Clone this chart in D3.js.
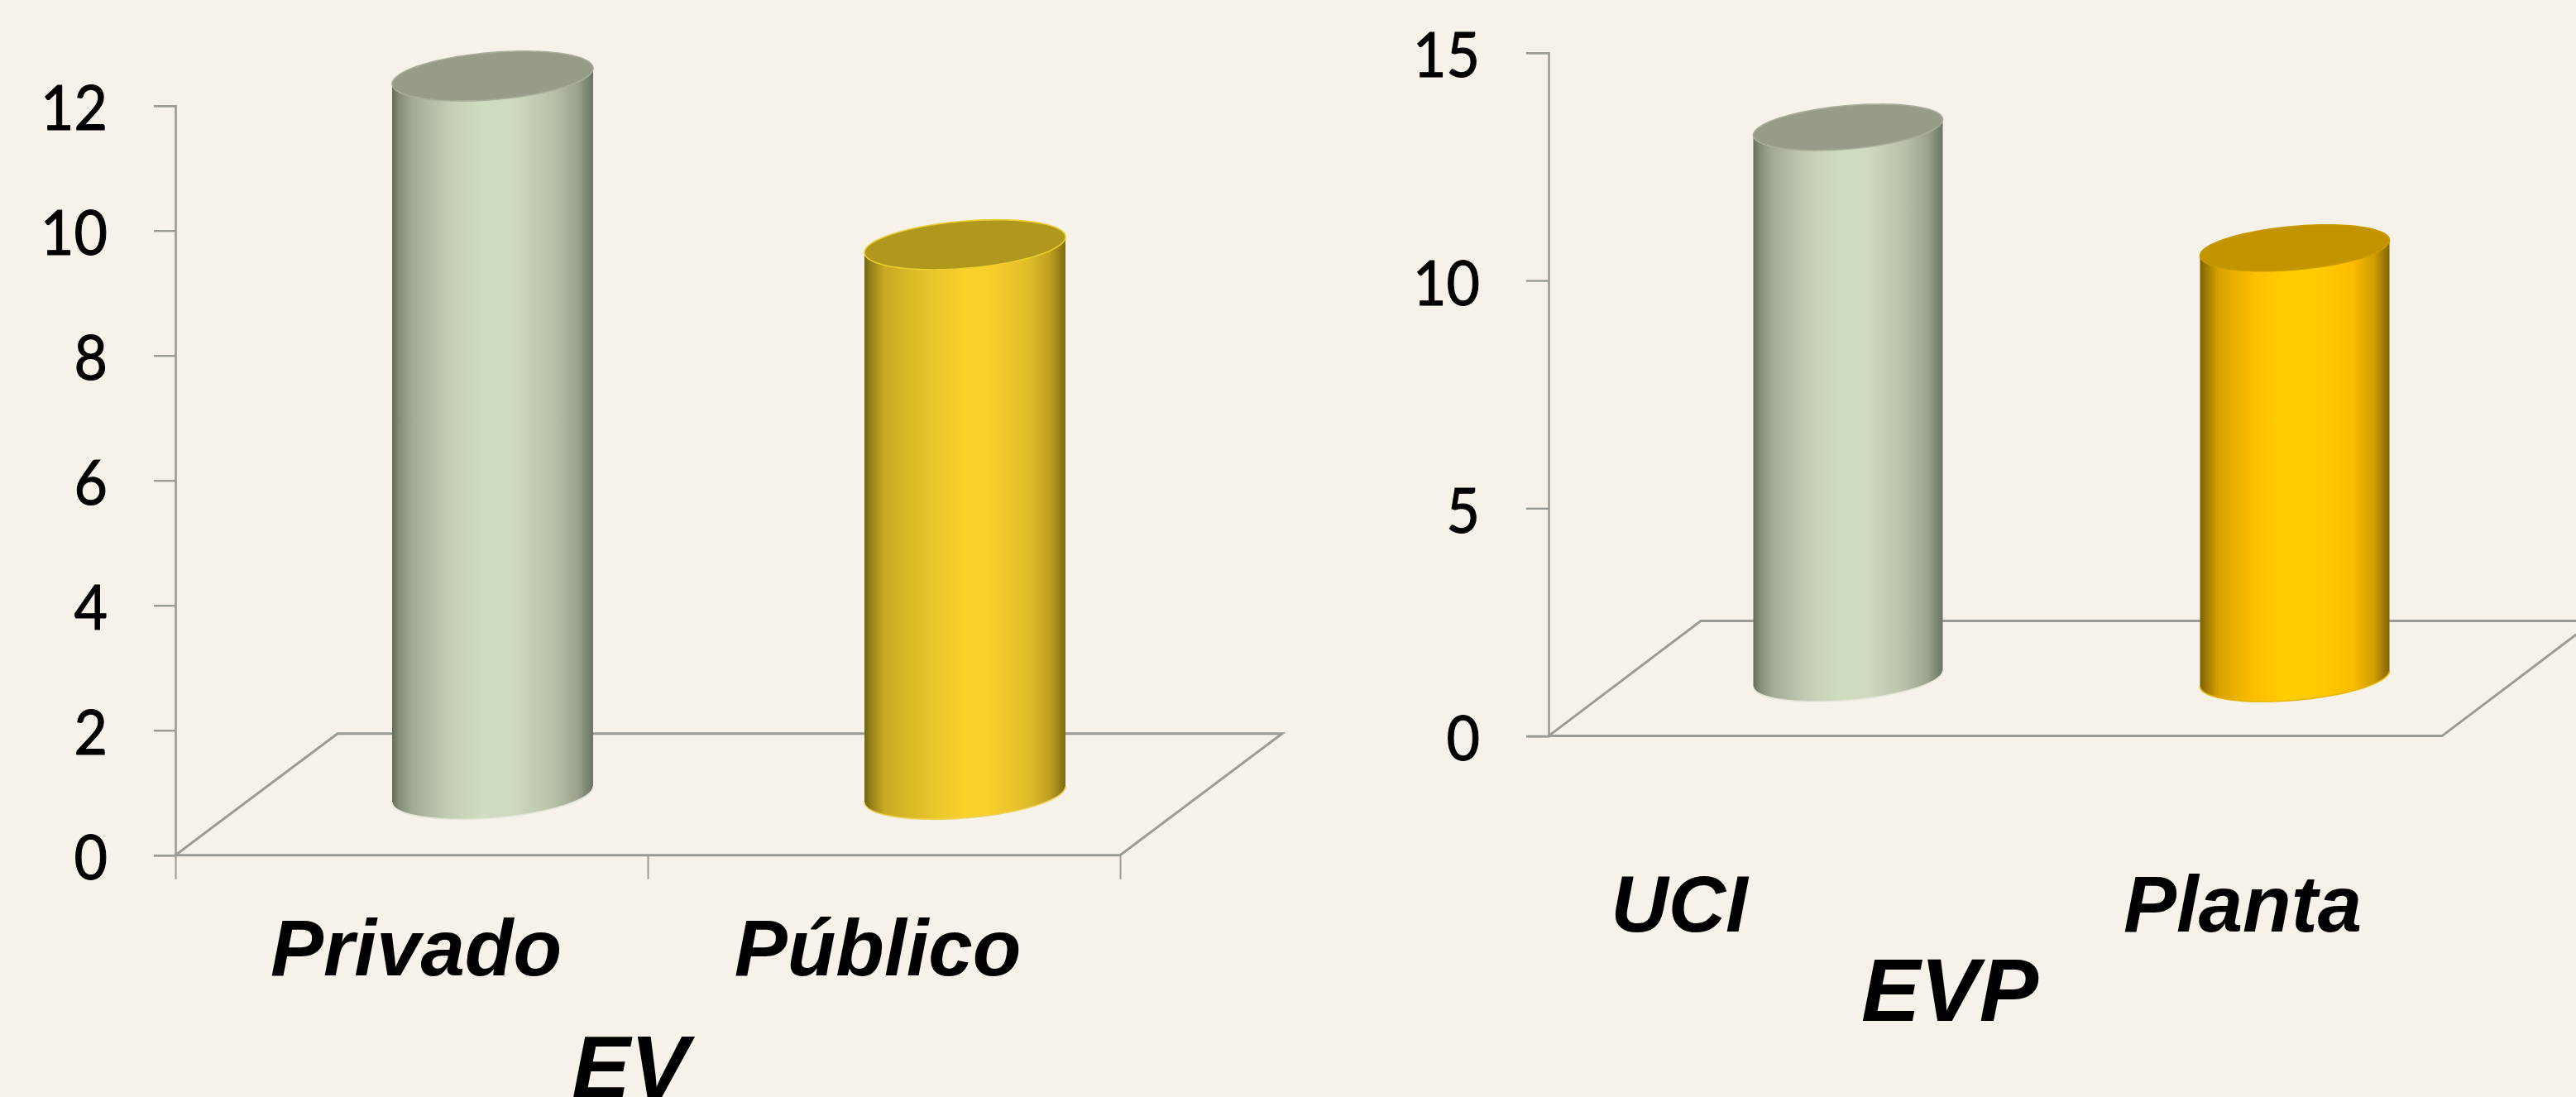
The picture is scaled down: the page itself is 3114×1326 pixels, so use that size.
<!DOCTYPE html>
<html>
<head>
<meta charset="utf-8">
<script src="https://cdn.jsdelivr.net/npm/d3@7"></script>
<style>
html,body{margin:0;padding:0;background:#f6f2ea;overflow:hidden}
svg{display:block}
.cat{font-family:"Liberation Sans",Arial,sans-serif;font-weight:bold;font-style:italic;fill:#000}
</style>
</head>
<body>
<svg id="chart" width="3114" height="1326"></svg>
<script>
// Data
const evCategories = ["Privado", "Público"];
const evValues = [11.5, 8.8];
const evTicks = [0, 2, 4, 6, 8, 10, 12];
const evTitle = "EV";

const evpCategories = ["UCI", "Planta"];
const evpValues = [12.1, 9.45];
const evpTicks = [0, 5, 10, 15];
const evpTitle = "EVP";

// Layout and style
const panels = [
  {categories: evCategories, values: evValues, ticks: evTicks, title: evTitle,
   x0: 212, x1: 1354, yBase: 1033.7, yTop: 127.7, yMax: 12, depthX: 196, depthY: 147,
   a: 121.5, b: 28.6, skew: -9.5, bandTicks: true, tickLen: 26,
   labelX: [503, 1061], labelY: 1179, titleX: 762, titleY: 1326, titleSize: 106,
   fills: ["green", "yellow"]},
  {categories: evpCategories, values: evpValues, ticks: evpTicks, title: evpTitle,
   x0: 1872, x1: 2952, yBase: 889.6, yTop: 63.7, yMax: 15, depthX: 184, depthY: 139,
   a: 114.5, b: 26.3, skew: -9.5, bandTicks: false, tickLen: 27,
   labelX: [2030, 2711], labelY: 1126, titleX: 2357, titleY: 1234, titleSize: 107,
   fills: ["green", "amber"]}
];

const palettes = {
  green: {top: "#969c87", rim: "#a8ae98", base: "#e2e5d8", stops: [
    [0, "#666d5e"], [0.035, "#848b79"], [0.1, "#a3aa95"], [0.28, "#c4cdb4"], [0.45, "#cfdcbf"],
    [0.6, "#cfdac1"], [0.8, "#b8c1a8"], [0.92, "#9ca38e"], [1, "#6c7363"]]},
  yellow: {top: "#b0981f", rim: "#ecce2e", base: "#ecd35a", stops: [
    [0, "#75630f"], [0.035, "#97821a"], [0.1, "#c9aa22"], [0.3, "#e4c22b"], [0.5, "#fad22c"],
    [0.62, "#f8d02c"], [0.82, "#dfbc2a"], [0.92, "#bfa021"], [1, "#7f6c10"]]},
  amber: {top: "#c29400", rim: "#c89a00", base: "#e8b400", stops: [
    [0, "#7d6000"], [0.035, "#9f7a00"], [0.1, "#d9a300"], [0.28, "#fdbe00"], [0.45, "#ffcd00"],
    [0.62, "#ffca00"], [0.8, "#fdbd00"], [0.92, "#cf9d00"], [1, "#80630a"]]}
};

const svg = d3.select("#chart");
svg.append("rect").attr("width", 3114).attr("height", 1326).attr("fill", "#f6f2ea");

const defs = svg.append("defs");
Object.entries(palettes).forEach(([name, p]) => {
  const g = defs.append("linearGradient").attr("id", "grad-" + name)
    .attr("x1", "0").attr("x2", "1").attr("y1", "0").attr("y2", "0");
  p.stops.forEach(s => g.append("stop").attr("offset", s[0]).attr("stop-color", s[1]));
});

const lineColor = "#9b9b95";
const line = d3.line();

panels.forEach(p => {
  const x = d3.scaleBand().domain(p.categories).range([p.x0, p.x1]).paddingInner(0).paddingOuter(0);
  const y = d3.scaleLinear().domain([0, p.yMax]).range([p.yBase, p.yTop]);
  const g = svg.append("g");

  // Floor
  g.append("path")
    .attr("d", line([[p.x0, p.yBase], [p.x0 + p.depthX, p.yBase - p.depthY],
                     [p.x1 + p.depthX, p.yBase - p.depthY], [p.x1, p.yBase], [p.x0, p.yBase]]))
    .attr("fill", "none").attr("stroke", lineColor).attr("stroke-width", 3);

  // Value axis
  const yAxis = g.append("g").attr("transform", `translate(${p.x0},0)`)
    .call(d3.axisLeft(y).tickValues(p.ticks).tickSize(p.tickLen).tickFormat(d3.format("d")));
  yAxis.select(".domain").attr("stroke", lineColor).attr("stroke-width", 2.6);
  yAxis.selectAll(".tick line").attr("stroke", lineColor).attr("stroke-width", 2.4);
  yAxis.selectAll(".tick text")
    .attr("font-size", 75)
    .attr("font-family", "Lato, sans-serif")
    .attr("fill", "#000")
    .attr("stroke", "#000")
    .attr("stroke-width", 1.1)
    .attr("x", -(p.tickLen + 56))
    .attr("dy", "0.39em")
    .attr("text-anchor", "end")
    .attr("textLength", d => String(d).length * 40.5)
    .attr("lengthAdjust", "spacingAndGlyphs");

  // Category axis ticks (band edges)
  if (p.bandTicks) {
    const edges = d3.scaleLinear().domain([0, p.categories.length]).range([p.x0, p.x1]);
    const xAxis = g.append("g").attr("transform", `translate(0,${p.yBase})`)
      .call(d3.axisBottom(edges).tickValues(d3.range(p.categories.length + 1)).tickSize(29).tickFormat(""));
    xAxis.select(".domain").remove();
    xAxis.selectAll(".tick line").attr("stroke", lineColor).attr("stroke-width", 2);
  }

  // Cylinders
  p.categories.forEach((c, i) => {
    const pal = palettes[p.fills[i]];
    const cx = x(c) + x.bandwidth() / 2 + p.depthX / 2;
    const yBottom = y(0) - p.depthY / 2;
    const yHead = y(p.values[i]) - p.depthY / 2;
    const rim = (cy, t) => [cx + p.a * Math.cos(t), cy + p.skew * Math.cos(t) + p.b * Math.sin(t)];
    const half = d3.range(0, 61).map(k => k / 60 * Math.PI);

    const body = half.map(t => rim(yBottom, t)).concat(half.slice().reverse().map(t => rim(yHead, t)));
    g.append("path").attr("d", line(body) + "Z").attr("fill", `url(#grad-${p.fills[i]})`);

    // pale lower edge of the base
    g.append("path").attr("d", line(half.map(t => rim(yBottom, t))))
      .attr("fill", "none").attr("stroke", pal.base).attr("stroke-width", 1.6);

    // top face
    const full = d3.range(0, 121).map(k => k / 120 * 2 * Math.PI);
    g.append("path").attr("d", line(full.map(t => rim(yHead, t))) + "Z")
      .attr("fill", pal.top).attr("stroke", pal.rim).attr("stroke-width", 1.6);
  });

  // Category labels
  p.categories.forEach((c, i) => {
    g.append("text").attr("class", "cat").attr("x", p.labelX[i]).attr("y", p.labelY)
      .attr("font-size", 96).attr("text-anchor", "middle").text(c);
  });

  // Axis title
  g.append("text").attr("class", "cat").attr("x", p.titleX).attr("y", p.titleY)
    .attr("font-size", p.titleSize).attr("text-anchor", "middle").text(p.title);
});
</script>
</body>
</html>
